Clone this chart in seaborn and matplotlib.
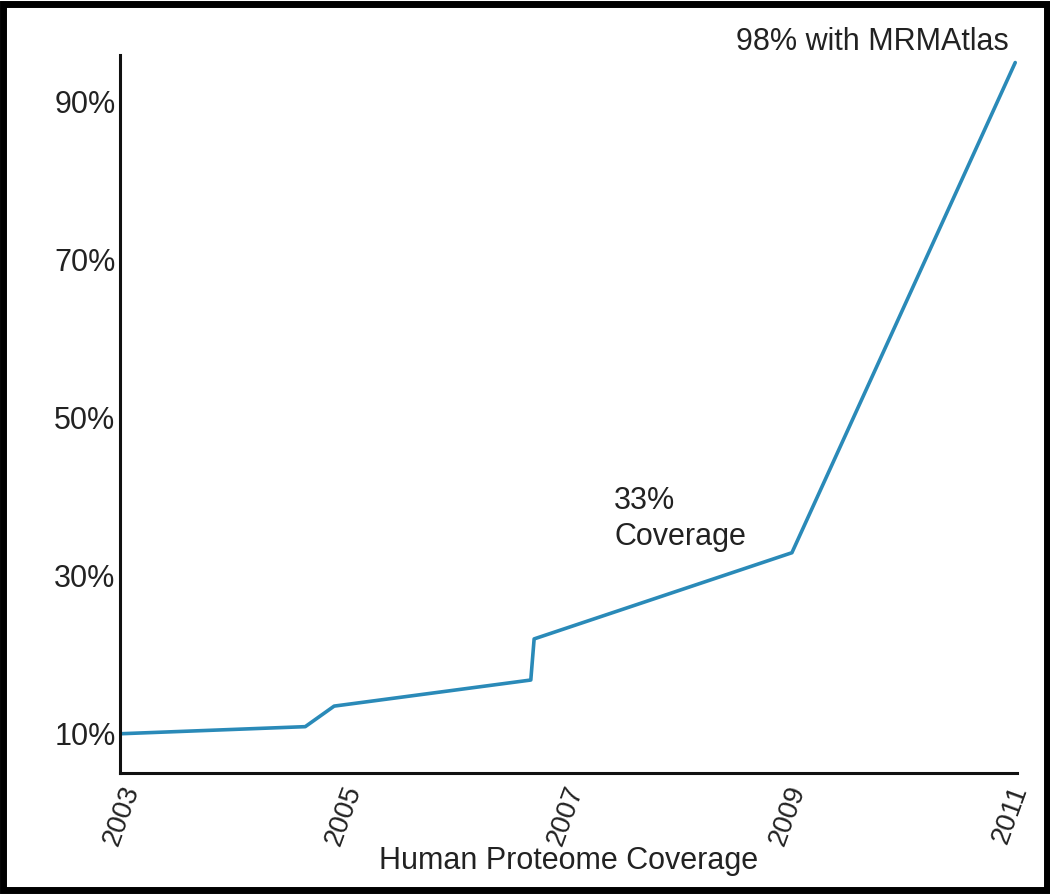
import numpy as np
import pandas as pd
import seaborn as sns
import matplotlib.pyplot as plt
from matplotlib.patches import Rectangle

# coverage values
years = [2003.0, 2004.67, 2004.93, 2006.70, 2006.73, 2009.05, 2011.06]
coverage = [10.0, 10.9, 13.5, 16.8, 22.0, 32.9, 94.9]
tickYears = [2003, 2005, 2007, 2009, 2011]
tickPct = [10, 30, 50, 70, 90]

df = pd.DataFrame({"Year": years, "Coverage": coverage})

sns.set_style('white')
plt.rcParams['font.family'] = ['Liberation Sans', 'DejaVu Sans']

fig = plt.figure(figsize=(10.5, 8.94), dpi=100)
ax = fig.add_axes([0.114, 0.135, 0.855, 0.803])

sns.lineplot(data=df, x="Year", y="Coverage", ax=ax, color='#2a8ab8',
             linewidth=2.6, sort=False, estimator=None)

fs = 22
ax.set_xlim(2003, 2011.08)
ax.set_ylim(5, 95.8)
ax.set_xticks(tickYears)
ax.set_xticklabels([str(y) for y in tickYears], rotation=70, ha='right',
                   rotation_mode='anchor', fontsize=20, color='#222222')
ax.set_yticks(tickPct)
ax.set_yticklabels([f"{p}%" for p in tickPct], fontsize=fs, color='#222222')
ax.tick_params(axis='both', length=0, pad=3)
ax.tick_params(axis='x', pad=6)

sns.despine(ax=ax)
for s in ['left', 'bottom']:
    ax.spines[s].set_color('#111111')
    ax.spines[s].set_linewidth(2.2)

ax.set_xlabel("Human Proteome Coverage", fontsize=fs, color='#222222')
ax.xaxis.label.set_va('center')
ax.xaxis.set_label_coords(0.5, -0.122)
ax.set_ylabel("")

ax.text(2011.0, 97.5, "98% with MRMAtlas", fontsize=fs, color='#222222',
        ha='right', va='center', clip_on=False)
ax.text(2007.45, 41.3, "33%\nCoverage", fontsize=fs, color='#222222',
        ha='left', va='top', linespacing=1.25)

# black frame around the whole picture
fig.patches.append(Rectangle((0.003, 0.004), 0.994, 0.992, transform=fig.transFigure,
                             fill=False, edgecolor='black', linewidth=5))

plt.savefig('out.png', dpi=100)
